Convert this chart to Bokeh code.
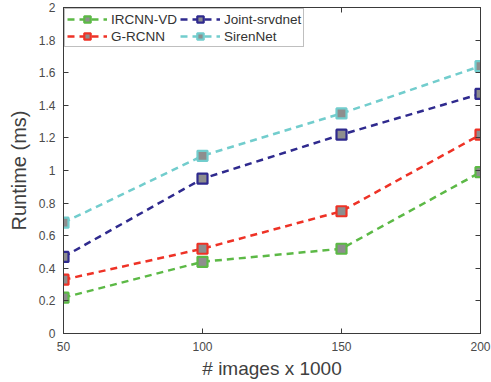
from bokeh.plotting import figure
from bokeh.models import LinearAxis, FixedTicker, Legend, LegendItem, Range1d
from bokeh.embed import file_html
from bokeh.resources import INLINE

x_vals = [50, 100, 150, 200]
ircnn_vd = [0.22, 0.44, 0.52, 0.99]
g_rcnn = [0.33, 0.52, 0.75, 1.22]
joint_srvdnet = [0.47, 0.95, 1.22, 1.47]
sirennet = [0.68, 1.09, 1.35, 1.64]
names = ["IRCNN-VD", "G-RCNN", "Joint-srvdnet", "SirenNet"]
colors = ["#5cb946", "#ee3226", "#2f2a8e", "#72cdcd"]
x_ticks = [50, 100, 150, 200]
y_ticks = [0, 0.2, 0.4, 0.6, 0.8, 1.0, 1.2, 1.4, 1.6, 1.8, 2.0]

FONT = "Liberation Sans"
AX = "#3a3a3a"

p = figure(width=491, height=382, output_backend="svg", toolbar_location=None,
           x_range=Range1d(50, 200), y_range=Range1d(0, 2))
p.min_border_left = 63
p.min_border_right = 11
p.min_border_top = 7
p.min_border_bottom = 49
p.grid.visible = False
p.outline_line_color = AX
p.background_fill_color = "white"
p.border_fill_color = "white"

bx = p.below[0]
ly = p.left[0]

top_ax = LinearAxis(ticker=FixedTicker(ticks=x_ticks))
right_ax = LinearAxis(ticker=FixedTicker(ticks=y_ticks))
for ax in [top_ax, right_ax]:
    ax.major_label_text_font_size = "0px"
    ax.major_label_standoff = 0
    ax.major_label_text_alpha = 0
p.add_layout(top_ax, "above")
p.add_layout(right_ax, "right")

for ax in [bx, ly, top_ax, right_ax]:
    ax.major_tick_in = 5
    ax.major_tick_out = 0
    ax.minor_tick_in = 0
    ax.minor_tick_out = 0
    ax.axis_line_color = AX
    ax.major_tick_line_color = AX
    ax.major_label_text_font = FONT
    ax.axis_label_text_font = FONT
    ax.axis_label_text_font_style = "normal"
    ax.axis_label_text_color = "#404040"

for ax in [bx, ly]:
    ax.major_label_text_font_size = "12px"
    ax.major_label_text_color = "#4a4a4a"
bx.axis_label_text_font_size = "19px"
ly.axis_label_text_font_size = "20px"

bx.ticker = FixedTicker(ticks=x_ticks)
ly.ticker = FixedTicker(ticks=y_ticks)
ly.major_label_overrides = {0: "0", 1: "1", 2: "2"}
bx.axis_label = "# images x 1000"
ly.axis_label = "Runtime (ms)"
bx.major_label_standoff = 8
bx.axis_label_standoff = 4
ly.major_label_standoff = 8
ly.axis_label_standoff = 6

legend_items = []
for name, col, ys in zip(names, colors, [ircnn_vd, g_rcnn, joint_srvdnet, sirennet]):
    r1 = p.line(x_vals, ys, line_color=col, line_width=2.5, line_dash="7 5")
    r2 = p.scatter(x_vals, ys, marker="square", size=10, fill_color="#8e8e8e",
                   line_color=col, line_width=2.2)
    legend_items.append(LegendItem(label=name, renderers=[r1, r2]))

legend = Legend(items=legend_items, location="top_left", ncols=2)
legend.label_text_font = FONT
legend.label_text_font_size = "13.5px"
legend.label_text_color = "#333333"
legend.border_line_color = "#808080"
legend.border_line_width = 1.5
legend.margin = 1
legend.padding = 2
legend.spacing = 1
legend.glyph_width = 40
legend.glyph_height = 16
legend.label_height = 16
legend.label_width = 68
legend.label_standoff = 4
legend.background_fill_alpha = 1
p.add_layout(legend)

open("out.html", "w").write(file_html(p, INLINE))
